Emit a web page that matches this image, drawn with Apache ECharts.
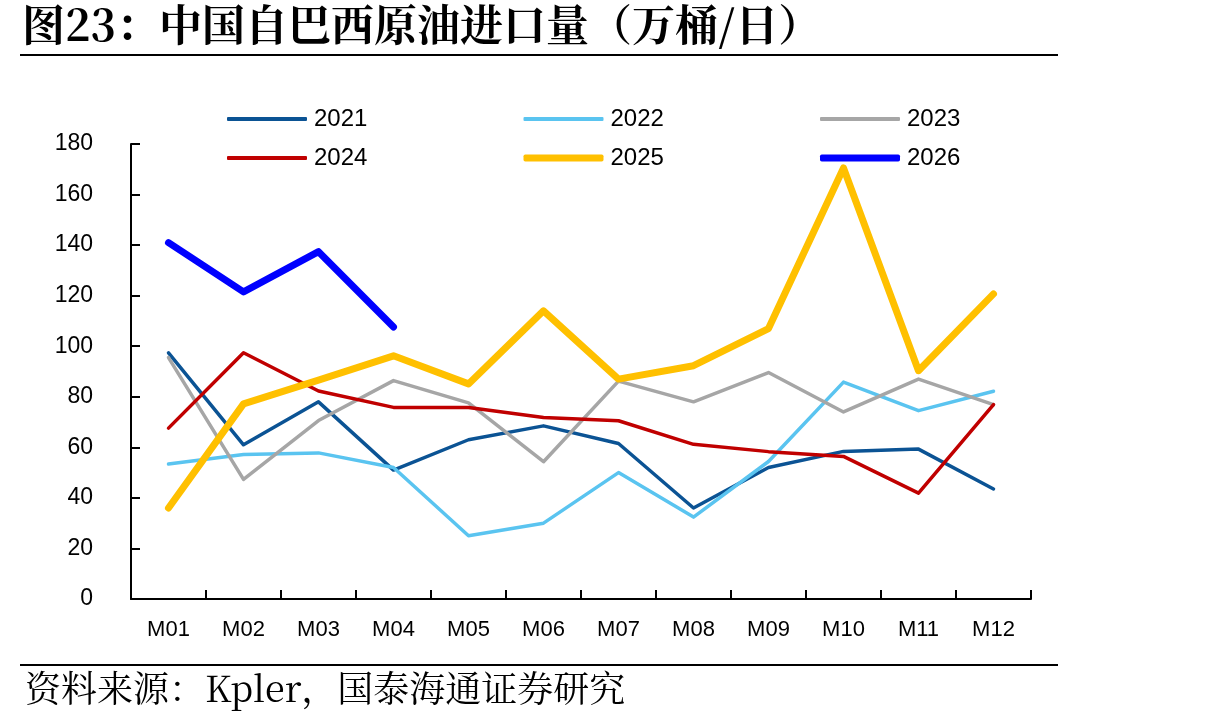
<!DOCTYPE html>
<html>
<head>
<meta charset="utf-8">
<script src="https://cdn.jsdelivr.net/npm/echarts@6/dist/echarts.min.js"></script>
<style>
  html, body { margin: 0; padding: 0; background: #fff; }
  #main { width: 1215px; height: 725px; }
</style>
</head>
<body>
<div id="main"></div>
<script>
// data
const months = ['M01', 'M02', 'M03', 'M04', 'M05', 'M06', 'M07', 'M08', 'M09', 'M10', 'M11', 'M12'];
const y2021 = [97.4, 61, 78, 51, 63, 68.5, 61.5, 36, 52, 58.4, 59.3, 43.5];
const y2022 = [53.4, 57.2, 57.8, 52, 25, 30, 50, 32.4, 54.4, 85.8, 74.5, 82.2];
const y2023 = [95.5, 47.3, 70.6, 86.4, 77.6, 54.3, 86.2, 78, 89.6, 74, 87, 76.9];
const y2024 = [67.6, 97.4, 82.3, 75.8, 75.8, 71.8, 70.5, 61.2, 58.3, 56.4, 41.9, 76.9];
const y2025 = [36, 77.2, 86.6, 96.2, 85.1, 114, 87, 92.3, 107, 170.5, 90.3, 120.7];
const y2026 = [141, 121.5, 137.4, 107.6];
const yTicks = [0, 20, 40, 60, 80, 100, 120, 140, 160, 180];

const names = ['2021', '2022', '2023', '2024', '2025', '2026'];
const colors = ['#0B5394', '#5AC4F0', '#A6A6A6', '#C00000', '#FFC000', '#0000FF'];
const widths = [3.5, 3.5, 3.5, 3.5, 7, 7];
const allData = [y2021, y2022, y2023, y2024, y2025, y2026];

const numFont = "'Liberation Sans Narrow', 'Liberation Sans', Arial, sans-serif";

let chart = echarts.init(document.getElementById('main'));

// one legend per item so they sit in a 3 x 2 grid
let legends = names.map(function (n, i) {
    let h = widths[i] > 5 ? 7 : 4;
    return {
        data: [n],
        left: 222 + (i % 3) * 296.5,
        top: 102 + Math.floor(i / 3) * 39,
        itemWidth: 80,
        itemHeight: h,
        itemGap: 0,
        icon: 'roundRect',
        itemStyle: { color: colors[i] },
        textStyle: { fontSize: 24, color: '#000', fontFamily: numFont, padding: [0, 0, 0, 2] }
    };
});

let series = names.map(function (n, i) {
    return {
        name: n,
        type: 'line',
        data: allData[i],
        symbol: 'none',
        color: colors[i],
        lineStyle: { width: widths[i], color: colors[i], cap: 'round', join: 'round' },
        z: i === 5 ? 5 : 2
    };
});

let option = {
    animation: false,
    backgroundColor: '#fff',
    legend: legends,
    grid: { left: 131, right: 184, top: 144, bottom: 126, containLabel: false },
    xAxis: {
        type: 'category',
        data: months,
        boundaryGap: true,
        axisLine: { show: true, lineStyle: { color: '#000', width: 2 } },
        // ticks point up into the plot
        axisTick: { show: true, interval: 0, length: -9, lineStyle: { color: '#000', width: 2 } },
        axisLabel: { fontSize: 22, color: '#000', fontFamily: numFont, margin: 20 },
        splitLine: { show: false }
    },
    yAxis: {
        type: 'value',
        min: yTicks[0],
        max: yTicks[yTicks.length - 1],
        interval: 20,
        axisLine: { show: true, lineStyle: { color: '#000', width: 2 } },
        axisTick: { show: true, length: -9, lineStyle: { color: '#000', width: 2 } },
        axisLabel: { fontSize: 23, color: '#000', fontFamily: numFont, margin: 38 },
        splitLine: { show: false }
    },
    series: series,
    graphic: [
        {
            type: 'text', left: 22, top: 3,
            style: {
                text: '图23：中国自巴西原油进口量（万桶/日）',
                font: "bold 43px 'Noto Serif CJK SC', 'Noto Sans CJK SC', serif",
                fill: '#000'
            }
        },
        {
            type: 'line',
            shape: { x1: 20, y1: 55, x2: 1058, y2: 55 },
            style: { stroke: '#000', lineWidth: 2 }
        },
        {
            type: 'line',
            shape: { x1: 20, y1: 665, x2: 1058, y2: 665 },
            style: { stroke: '#000', lineWidth: 2 }
        },
        {
            type: 'text', left: 25, top: 670,
            style: {
                text: '资料来源：Kpler，国泰海通证券研究',
                font: "36px 'Noto Serif CJK SC', 'Noto Sans CJK SC', serif",
                fill: '#000'
            }
        }
    ]
};

chart.setOption(option);
</script>
</body>
</html>
